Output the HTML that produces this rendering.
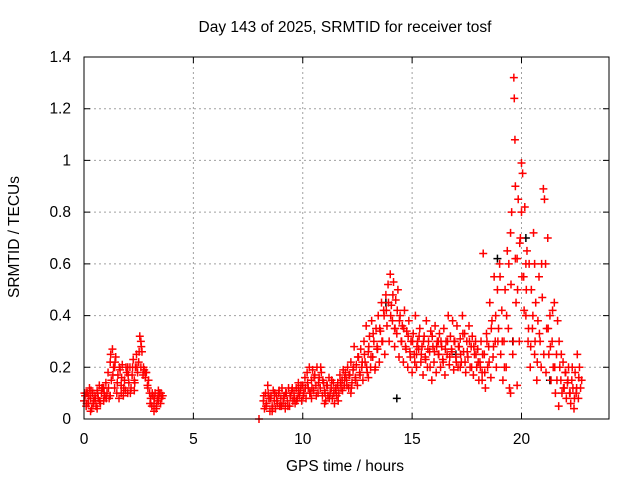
<!DOCTYPE html>
<html><head><meta charset="utf-8"><style>
html,body{margin:0;padding:0;background:#fff;width:640px;height:480px;overflow:hidden}
svg{display:block;font-family:"Liberation Sans",sans-serif}
</style></head><body>
<svg id="chart" width="640" height="480" xmlns="http://www.w3.org/2000/svg">
<text x="345" y="32" font-size="15.5" text-anchor="middle" fill="#000">Day 143 of 2025, SRMTID for receiver tosf</text>
<text x="345" y="471" font-size="15.5" text-anchor="middle" fill="#000">GPS time / hours</text>
<text x="19" y="237" font-size="15.5" text-anchor="middle" fill="#000" transform="rotate(-90 19 237)">SRMTID / TECUs</text>
<g id="grid"></g>
<g id="ticks"></g>
<g id="black-series"></g>
<g id="red-series"></g>
<rect x="84" y="57" width="525" height="362" fill="none" stroke="#000" stroke-width="1"/>
</svg>
<script>
const xTicks = [0,5,10,15,20];
const yTicks = [0,0.2,0.4,0.6,0.8,1,1.2,1.4];
const yTickLabels = ["0","0.2","0.4","0.6","0.8","1","1.2","1.4"];
const redHours = [0,0.05,0.1,0.15,0.2,0.25,0.3,0.35,0.4,0.45,0.5,0.55,0.6,0.65,0.7,0.75,0.8,0.85,0.9,0.95,1.0,1.05,1.1,1.15,1.2,1.25,1.3,1.35,1.4,1.45,1.5,1.55,1.6,1.65,1.7,1.75,1.8,1.85,1.9,1.95,2.0,2.05,2.1,2.15,2.2,2.25,2.3,2.35,2.4,2.45,2.5,2.55,2.6,2.65,2.7,2.75,2.8,2.85,2.9,2.95,3.0,3.05,3.1,3.15,3.2,3.25,3.3,3.35,3.4,3.45,3.5,3.55,3.6,0.1,0.3,0.6,0.9,1.2,1.4,1.7,2.0,2.3,2.6,3.2,3.4,
8.0,8.2,8.25,8.3,8.35,8.4,8.45,8.5,8.55,8.6,8.65,8.7,8.75,8.8,8.85,8.9,8.95,9.0,9.05,9.1,9.15,9.2,9.25,9.3,9.35,9.4,9.45,9.5,9.55,9.6,9.65,9.7,9.75,9.8,9.85,9.9,9.95,10.0,10.05,10.1,10.15,10.2,10.25,10.3,10.35,10.4,10.45,10.5,10.55,10.6,10.65,10.7,10.75,10.8,10.85,10.9,10.95,11.0,11.05,11.1,11.15,11.2,11.25,11.3,11.35,11.4,11.45,11.5,11.55,11.6,11.65,11.7,11.75,11.8,11.85,11.9,11.95,12.0,12.05,12.1,12.15,12.2,12.25,12.3,12.35,12.4,12.45,12.5,12.55,12.6,12.65,12.7,12.75,12.8,12.85,12.9,12.95,13.0,13.05,13.1,13.15,13.2,13.25,13.3,13.35,13.4,13.45,13.5,13.55,13.6,13.65,13.7,13.75,13.8,13.85,13.9,13.95,14.0,14.05,14.1,14.15,14.2,14.25,14.3,14.35,14.4,14.45,14.5,14.55,14.6,14.65,14.7,14.75,14.8,14.85,14.9,14.95,15.0,15.05,15.1,15.15,15.2,15.25,15.3,15.35,15.4,15.45,15.5,15.55,15.6,15.65,15.7,15.75,15.8,15.85,15.9,15.95,16.0,16.05,16.1,16.15,16.2,16.25,16.3,16.35,16.4,16.45,16.5,16.55,16.6,16.65,16.7,16.75,16.8,16.85,16.9,16.95,17.0,17.05,17.1,17.15,17.2,17.25,17.3,17.35,17.4,17.45,17.5,17.55,17.6,17.65,17.7,17.75,17.8,17.85,17.9,17.95,18.0,18.05,18.1,18.15,18.2,18.25,18.3,18.35,18.4,18.45,18.5,18.55,18.6,18.65,18.7,18.75,18.8,18.85,18.9,18.95,19.0,19.05,19.1,19.15,19.2,19.25,19.3,19.35,19.4,19.45,19.5,19.55,19.6,19.65,19.67,19.7,19.72,19.75,19.8,19.85,19.9,19.95,20.0,20.05,20.1,20.15,20.2,20.25,20.3,20.35,20.4,20.45,20.5,20.55,20.6,20.65,20.7,20.75,20.8,20.85,20.9,20.95,21.0,21.05,21.1,21.15,21.2,21.25,21.3,21.35,21.4,21.45,21.5,21.55,21.6,21.65,21.7,21.75,21.8,21.85,21.9,21.95,22.0,22.05,22.1,22.15,22.2,22.25,22.3,22.35,22.4,22.45,22.5,22.55,22.6,22.65,22.7,22.75,19.5,19.8,20.0,20.2,20.6,8.6,9.2,9.8,10.4,11.0,11.6,12.2,13.0,13.4,14.2,15.2,16.2,17.2,18.2];
const redValues = [.07,.09,.05,.1,.06,.12,.08,.04,.1,.07,.09,.05,.11,.08,.13,.06,.1,.12,.07,.09,.14,.1,.18,.08,.22,.15,.27,.2,.12,.24,.1,.17,.08,.19,.13,.21,.09,.15,.11,.18,.1,.14,.2,.12,.17,.23,.15,.2,.25,.18,.22,.32,.3,.26,.17,.19,.16,.18,.13,.15,.1,.08,.05,.09,.06,.1,.04,.08,.07,.1,.06,.08,.09,.1,.03,.04,.12,.09,.2,.1,.2,.11,.2,.03,.11,
0.0,.07,.04,.1,.06,.13,.08,.03,.09,.05,.11,.07,.04,.09,.06,.1,.05,.08,.12,.06,.09,.04,.1,.07,.12,.05,.09,.11,.07,.1,.06,.12,.08,.14,.09,.11,.07,.13,.1,.16,.08,.18,.12,.2,.1,.15,.19,.11,.17,.13,.2,.1,.16,.12,.18,.09,.14,.11,.07,.13,.09,.16,.1,.12,.08,.14,.06,.11,.09,.13,.1,.17,.12,.15,.19,.13,.18,.15,.2,.12,.17,.22,.14,.19,.28,.16,.21,.13,.24,.18,.27,.2,.15,.3,.22,.36,.18,.26,.32,.2,.38,.24,.3,.19,.35,.27,.4,.22,.34,.45,.3,.42,.25,.48,.36,.52,.3,.56,.44,.38,.53,.28,.46,.33,.5,.24,.4,.3,.36,.22,.42,.28,.34,.2,.38,.26,.3,.18,.33,.25,.4,.2,.3,.27,.35,.22,.28,.17,.32,.24,.38,.2,.3,.26,.34,.15,.28,.22,.36,.18,.3,.25,.33,.2,.28,.23,.35,.17,.3,.25,.4,.21,.32,.27,.38,.19,.3,.24,.36,.2,.28,.31,.22,.4,.26,.33,.18,.3,.24,.36,.2,.28,.32,.17,.25,.3,.2,.27,.15,.22,.3,.18,.64,.25,.12,.33,.2,.28,.45,.16,.38,.24,.55,.3,.2,.5,.35,.6,.25,.42,.15,.3,.5,.2,.65,.35,.12,.72,.8,.25,1.32,1.24,1.08,.9,.45,.62,.85,.3,.7,.99,.95,.55,.82,.4,.65,.3,.6,.2,.5,.35,.72,.25,.45,.15,.38,.55,.3,.2,.47,.89,.85,.6,.35,.7,.25,.4,.15,.3,.2,.45,.1,.25,.38,.05,.2,.15,.1,.22,.12,.18,.08,.14,.2,.1,.06,.15,.12,.04,.18,.1,.25,.08,.2,.12,.15,.1,.13,.8,.6,.6,.03,.05,.12,.08,.06,.14,.1,.16,.28,.35,.25,.3,.2,.15];
const redHours2 = [0.02,0.12,0.22,0.32,0.42,0.52,0.62,0.72,0.82,0.92,1.02,1.12,1.22,1.32,1.42,1.52,1.62,1.72,1.82,1.92,2.02,2.12,2.22,2.32,2.42,2.52,2.62,2.72,2.82,2.92,3.02,3.12,3.22,3.32,3.42,3.52,
8.22,8.32,8.42,8.52,8.62,8.72,8.82,8.92,9.02,9.12,9.22,9.32,9.42,9.52,9.62,9.72,9.82,9.92,10.02,10.12,10.22,10.32,10.42,10.52,10.62,10.72,10.82,10.92,11.02,11.12,11.22,11.32,11.42,11.52,11.62,11.72,11.82,11.92,12.02,12.12,12.22,12.32,12.42,12.52,12.62,12.72,12.82,12.92,13.02,13.12,13.22,13.32,13.42,13.52,13.62,13.72,13.82,13.92,14.02,14.12,14.22,14.32,14.42,14.52,14.62,14.72,14.82,14.92,15.02,15.12,15.22,15.32,15.42,15.52,15.62,15.72,15.82,15.92,16.02,16.12,16.22,16.32,16.42,16.52,16.62,16.72,16.82,16.92,17.02,17.12,17.22,17.32,17.42,17.52,17.62,17.72,17.82,17.92,18.02,18.12,18.22,18.32,18.42,18.52,18.62,18.72,18.82,18.92,19.02,19.12,19.22,19.32,19.42,19.52,19.62,19.72,19.82,19.92,20.02,20.12,20.22,20.32,20.42,20.52,20.62,20.72,20.82,20.92,21.02,21.12,21.22,21.32,21.42,21.52,21.62,21.72,21.82,21.92,22.02,22.12,22.22,22.32,22.42,22.52,22.62,22.72];
const redValues2 = [.1,.06,.09,.11,.06,.08,.1,.07,.12,.1,.08,.12,.25,.17,.22,.14,.2,.16,.12,.2,.17,.1,.2,.14,.2,.26,.28,.2,.18,.12,.06,.1,.08,.05,.09,.1,
.09,.05,.1,.08,.04,.1,.07,.11,.05,.08,.1,.05,.09,.12,.08,.07,.1,.13,.09,.12,.14,.1,.12,.16,.09,.14,.2,.15,.1,.13,.08,.15,.1,.12,.07,.14,.11,.16,.13,.17,.12,.2,.15,.24,.17,.22,.25,.2,.28,.24,.33,.2,.27,.35,.3,.4,.42,.45,.4,.48,.35,.42,.38,.3,.35,.27,.32,.24,.3,.22,.28,.32,.25,.3,.23,.27,.2,.32,.26,.28,.25,.3,.22,.27,.3,.24,.26,.3,.22,.28,.25,.33,.22,.26,.3,.2,.28,.25,.22,.2,.25,.18,.3,.22,.35,.28,.4,.3,.55,.3,.2,.4,.6,.52,.3,.62,.5,.68,.55,.42,.5,.35,.28,.4,.3,.22,.33,.6,.25,.18,.35,.28,.42,.2,.15,.3,.25,.12,.18,.15,.1,.2,.08,.12,.16];
const blackHours = [13.8,14.3,18.9,19.6,20.2,21.3,17.0];
const blackValues = [.45,.08,.62,.3,.7,.15,.25];

const NS = "http://www.w3.org/2000/svg";
const L = 84, R = 609, T = 57, B = 419;
function xs(h){ return L + (h/24)*(R-L); }
function ys(v){ return B - (v/1.4)*(B-T); }
function mk(tag, attrs, parent){ const e = document.createElementNS(NS, tag); for (const k in attrs) e.setAttribute(k, attrs[k]); parent.appendChild(e); return e; }

const grid = document.getElementById('grid');
const ticks = document.getElementById('ticks');
xTicks.forEach(t => {
  const x = xs(t);
  if (t > 0) {
    const g = mk('line', {x1:x, x2:x, y1:T, y2:B, stroke:'#a0a0a0', 'stroke-dasharray':'2,3'}, grid);
    
    
  }
  const tk = mk('path', {d:`M${x},${B}v-6M${x},${T}v6`, stroke:'#000'}, ticks);
  
  
  const lb = mk('text', {x:x, y:B+25, 'font-size':15.5, 'text-anchor':'middle'}, ticks);
  
  
  lb.textContent = String(t);
});
yTicks.forEach((t, i) => {
  const y = ys(t);
  if (t > 0 && t < 1.4) {
    const g = mk('line', {x1:L, x2:R, y1:y, y2:y, stroke:'#a0a0a0', 'stroke-dasharray':'2,3'}, grid);
    
    
  }
  const tk = mk('path', {d:`M${L},${y}h6M${R},${y}h-6`, stroke:'#000'}, ticks);
  
  
  const lb = mk('text', {x:L-13, y:y+5, 'font-size':15.5, 'text-anchor':'end'}, ticks);
  
  
  lb.textContent = yTickLabels[i];
});
function drawSeries(hours, values, color, gid){
  const g = document.getElementById(gid);
  hours.forEach((h, i) => {
    const x = xs(h), y = ys(values[i]);
    const p = mk('path', {d:`M${x-4},${y}h8M${x},${y-4}v8`, stroke:color, 'stroke-width':1.5}, g);
    
    
  });
}
drawSeries(blackHours, blackValues, '#000', 'black-series');
drawSeries(redHours, redValues, '#ff0000', 'red-series');
drawSeries(redHours2, redValues2, '#ff0000', 'red-series');
</script>
</body></html>
